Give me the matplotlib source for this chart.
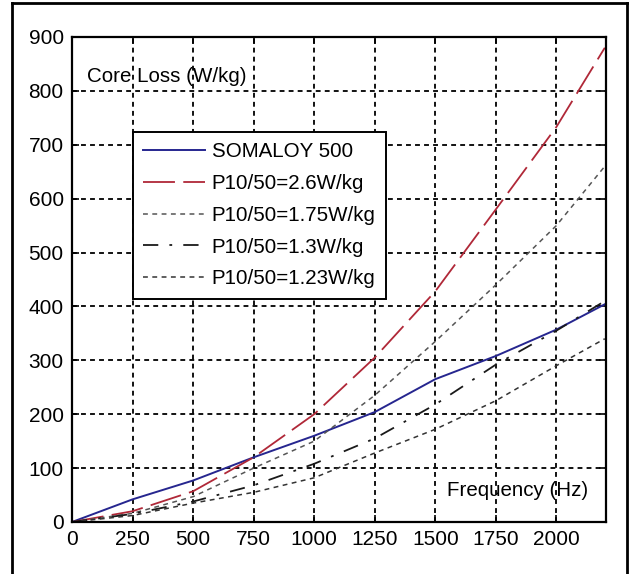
import numpy as np
import matplotlib
matplotlib.use("Agg")
import matplotlib.pyplot as plt
from matplotlib.lines import Line2D

plt.rcParams["font.family"] = ["Liberation Sans", "DejaVu Sans"]
plt.rcParams["lines.scale_dashes"] = False

# frequency grid (Hz) and core loss curves (W/kg)
freq = [0, 250, 500, 750, 1000, 1250, 1500, 1750, 2000, 2200]
somaloy = [0, 42, 77, 120, 160, 204, 265, 308, 357, 404]
p26 = [0, 20, 57, 120, 200, 305, 428, 580, 733, 880]
p175 = [0, 16, 47, 100, 150, 235, 335, 440, 550, 660]
p13 = [0, 15, 38, 68, 108, 155, 218, 292, 355, 410]
p123 = [0, 12, 35, 55, 82, 128, 172, 225, 290, 340]

labels = ["SOMALOY 500", "P10/50=2.6W/kg", "P10/50=1.75W/kg",
          "P10/50=1.3W/kg", "P10/50=1.23W/kg"]
xticks = [0, 250, 500, 750, 1000, 1250, 1500, 1750, 2000]
yticks = [0, 100, 200, 300, 400, 500, 600, 700, 800, 900]

fig = plt.figure(figsize=(6.3, 5.74), dpi=100)
ax = fig.add_axes([0.1143, 0.0906, 0.8476, 0.845])

ax.plot(freq, somaloy, color="#26268f", lw=1.4, label=labels[0])
ax.plot(freq, p26, color="#b02838", lw=1.3, dashes=(23, 6), label=labels[1])
ax.plot(freq, p175, color="#555555", lw=1.1, dashes=(3.5, 3.2), label=labels[2])
ax.plot(freq, p13, color="#1a1a1a", lw=1.3, dashes=(11, 8, 2, 8), label=labels[3])
ax.plot(freq, p123, color="#333333", lw=1.1, dashes=(3.5, 3.2), label=labels[4])

ax.set_xlim(0, 2205)
ax.set_ylim(0, 900)
ax.set_xticks(xticks)
ax.set_yticks(yticks)
ax.tick_params(direction="in", length=5, width=1.2, labelsize=15,
               top=True, right=True, pad=6)
ax.grid(True, color="black", lw=1.3, linestyle=(0, (3.5, 3)))
for s in ax.spines.values():
    s.set_linewidth(1.6)

ax.text(60, 826, "Core Loss (W/kg)", fontsize=14.8, va="center", ha="left")
ax.text(2133, 59, "Frequency (Hz)", fontsize=14.8, va="center", ha="right")

leg = ax.legend(loc="upper left", bbox_to_anchor=(0.114, 0.804), borderaxespad=0,
                fontsize=14.8, handlelength=3.0, handletextpad=0.33,
                labelspacing=0.62, borderpad=0.5, fancybox=False,
                framealpha=1, edgecolor="black")
leg.get_frame().set_linewidth(1.4)

# outer frame lines around the figure
for xs, ys in [([12 / 630, 12 / 630], [0, 1 - 3 / 574]),
               ([12 / 630, 627 / 630], [1 - 3 / 574, 1 - 3 / 574]),
               ([627 / 630, 627 / 630], [0, 1 - 3 / 574])]:
    fig.add_artist(Line2D(xs, ys, color="black", lw=2, transform=fig.transFigure))

fig.savefig("out.png", dpi=100)
